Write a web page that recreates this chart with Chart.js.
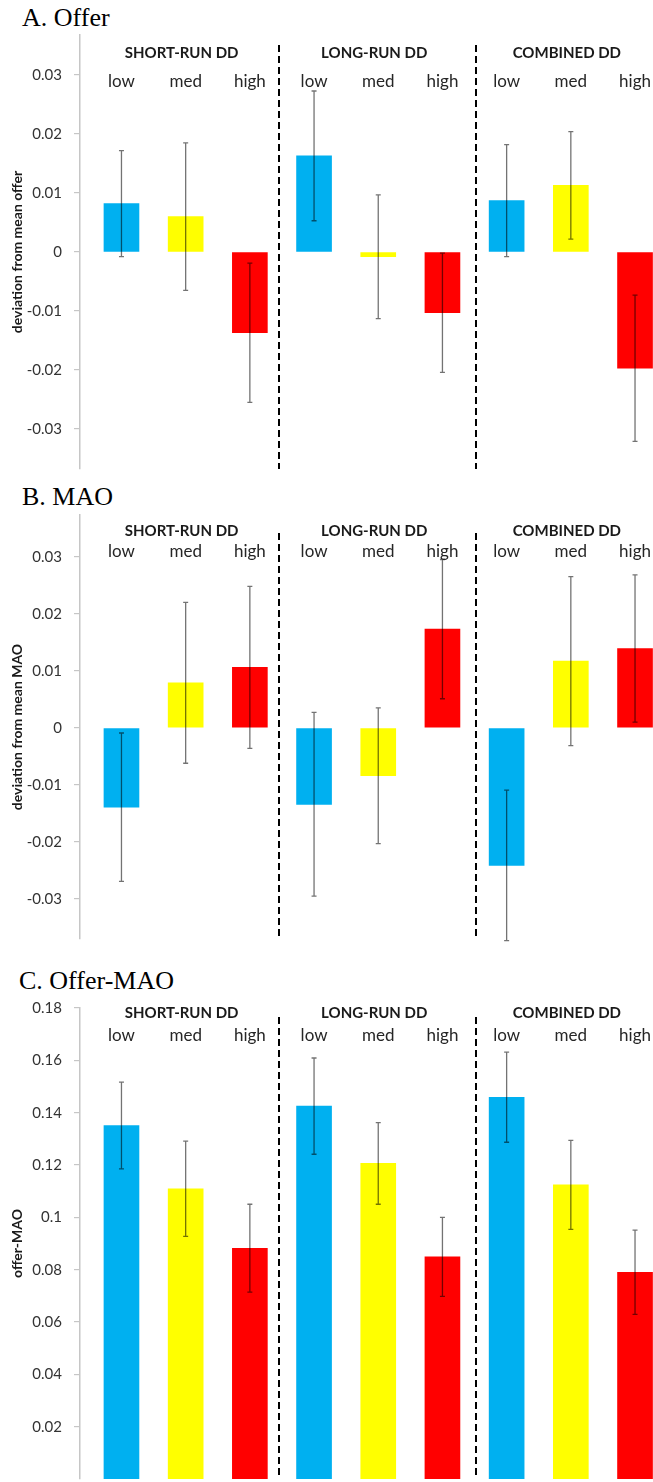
<!DOCTYPE html>
<html>
<head>
<meta charset="utf-8">
<script src="https://cdn.jsdelivr.net/npm/chart.js@4.4.1/dist/chart.umd.min.js"></script>
<style>
  html, body { margin: 0; padding: 0; background: #fff; overflow: hidden; }
  body { width: 653px; height: 1482px; position: relative; }
  canvas { position: absolute; left: 0; }
  .ptitle { position: absolute; font-family: "Liberation Serif", "Times New Roman", serif; font-size: 26px; line-height: 26px; color: #000; white-space: nowrap; }
</style>
</head>
<body>
<div class="ptitle" style="left:22px; top:5px;">A. Offer</div>
<div class="ptitle" style="left:22px; top:484px;">B. MAO</div>
<div class="ptitle" style="left:19px; top:968px;">C. Offer-MAO</div>
<canvas id="chartA" width="653" height="490" style="top:0px"></canvas>
<canvas id="chartB" width="653" height="470" style="top:490px"></canvas>
<canvas id="chartC" width="653" height="540" style="top:960px"></canvas>
<script>
// groups and levels
const groups = ['SHORT-RUN DD', 'LONG-RUN DD', 'COMBINED DD'];
const levels = ['low', 'med', 'high'];
const levelColors = ['#00B0F0', '#FFFF00', '#FF0000'];

// A. Offer  (deviation from mean offer)
const offerMeans = [0.0082, 0.0060, -0.0137, 0.0163, -0.0008, -0.0103, 0.0087, 0.0113, -0.0197];
const offerErrs  = [0.0090, 0.0125, 0.0118, 0.0110, 0.0105, 0.0101, 0.0095, 0.0091, 0.0124];
const offerTicks = [0.03, 0.02, 0.01, 0, -0.01, -0.02, -0.03];

// B. MAO  (deviation from mean MAO)
const maoMeans = [-0.0139, 0.0079, 0.0106, -0.0134, -0.0084, 0.0173, -0.0241, 0.0117, 0.0139];
const maoErrs  = [0.0130, 0.0141, 0.0142, 0.0161, 0.0119, 0.0122, 0.0132, 0.0148, 0.0129];
const maoTicks = [0.03, 0.02, 0.01, 0, -0.01, -0.02, -0.03];

// C. Offer-MAO
const diffMeans = [0.1351, 0.1109, 0.0882, 0.1425, 0.1206, 0.0849, 0.1459, 0.1124, 0.0790];
const diffErrs  = [0.0166, 0.0182, 0.0168, 0.0184, 0.0156, 0.0151, 0.0172, 0.0170, 0.0161];
const diffTicks = [0.18, 0.16, 0.14, 0.12, 0.1, 0.08, 0.06, 0.04, 0.02];

const FONT = 'Lato, "Open Sans", sans-serif';

// error bars, dashed separators, group headers and level labels
const decoPlugin = {
  id: 'panelDeco',
  afterDatasetsDraw(chart, args, opts) {
    const ctx = chart.ctx;
    const xs = chart.scales.x, ys = chart.scales.y;
    const area = chart.chartArea;
    const meta = chart.getDatasetMeta(0);
    const means = chart.data.datasets[0].data;

    ctx.save();
    // error bars
    ctx.strokeStyle = 'rgba(0,0,0,0.55)';
    ctx.lineWidth = 1.3;
    meta.data.forEach((bar, i) => {
      const m = means[i].y, e = opts.errs[i];
      const yTop = ys.getPixelForValue(m + e);
      const yBot = ys.getPixelForValue(m - e);
      ctx.beginPath();
      ctx.moveTo(bar.x, yTop); ctx.lineTo(bar.x, yBot);
      ctx.moveTo(bar.x - 2.5, yTop); ctx.lineTo(bar.x + 2.5, yTop);
      ctx.moveTo(bar.x - 2.5, yBot); ctx.lineTo(bar.x + 2.5, yBot);
      ctx.stroke();
    });

    // dashed separators
    ctx.strokeStyle = '#000';
    ctx.lineWidth = 2;
    ctx.setLineDash([7, 4]);
    [2.45, 5.53].forEach(v => {
      const x = Math.round(xs.getPixelForValue(v));
      ctx.beginPath();
      ctx.moveTo(x, area.top + opts.dashTop);
      ctx.lineTo(x, area.bottom);
      ctx.stroke();
    });
    ctx.setLineDash([]);

    // group headers
    ctx.textAlign = 'center';
    ctx.textBaseline = 'middle';
    ctx.fillStyle = '#1a1a1a';
    ctx.font = 'bold 15px ' + FONT;
    groups.forEach((g, gi) => {
      ctx.fillText(g, xs.getPixelForValue(gi * 3 + 1) - 4, area.top + opts.headerY);
    });
    // level labels
    ctx.fillStyle = '#262626';
    ctx.font = '17px ' + FONT;
    groups.forEach((g, gi) => {
      levels.forEach((lv, li) => {
        ctx.fillText(lv, xs.getPixelForValue(gi * 3 + li), area.top + opts.labelY);
      });
    });
    ctx.restore();
  }
};

function makePanel(id, means, errs, ticks, yMin, yMax, yTitle, pad, deco) {
  const points = means.map((v, i) => ({ x: i, y: v }));
  const colors = means.map((v, i) => levelColors[i % 3]);
  return new Chart(document.getElementById(id), {
    type: 'bar',
    data: {
      datasets: [{
        data: points,
        backgroundColor: colors,
        borderWidth: 0,
        barThickness: 35
      }]
    },
    options: {
      responsive: false,
      animation: false,
      layout: { padding: { top: pad.top, bottom: pad.bottom, left: 0, right: 0 } },
      plugins: {
        legend: { display: false },
        tooltip: { enabled: false },
        panelDeco: { errs: errs, dashTop: deco.dashTop, headerY: deco.headerY, labelY: deco.labelY }
      },
      scales: {
        x: {
          type: 'linear',
          display: false,
          offset: false,
          min: -0.646,
          max: 8.28
        },
        y: {
          min: yMin,
          max: yMax,
          afterFit: (scale) => { scale.width = 80; },
          afterBuildTicks: (scale) => { scale.ticks = ticks.map(v => ({ value: v })); },
          border: { display: true, color: '#c6c6c6', width: 1.5 },
          grid: { drawOnChartArea: false, drawTicks: true, tickLength: 6, color: '#c6c6c6', lineWidth: 1.2 },
          ticks: {
            padding: 12,
            color: '#333333',
            font: { family: FONT, size: 15 },
            callback: (v) => String(Number(Number(v).toFixed(3)))
          },
          title: {
            display: true,
            text: yTitle,
            color: '#1a1a1a',
            font: { family: FONT, size: 14, weight: 'bold' },
            padding: { top: 9, bottom: 0 }
          }
        }
      }
    },
    plugins: [decoPlugin]
  });
}

makePanel('chartA', offerMeans, offerErrs, offerTicks, -0.0368, 0.0368, 'deviation from mean offer',
  { top: 35, bottom: 13 }, { dashTop: 10, headerY: 18, labelY: 47 });
makePanel('chartB', maoMeans, maoErrs, maoTicks, -0.0370, 0.0373, 'deviation from mean MAO',
  { top: 25, bottom: 10 }, { dashTop: 18, headerY: 16, labelY: 37 });
makePanel('chartC', diffMeans, diffErrs, diffTicks, 0, 0.18, 'offer-MAO',
  { top: 48, bottom: 11.6 }, { dashTop: 9, headerY: 5, labelY: 28 });
</script>
</body>
</html>
